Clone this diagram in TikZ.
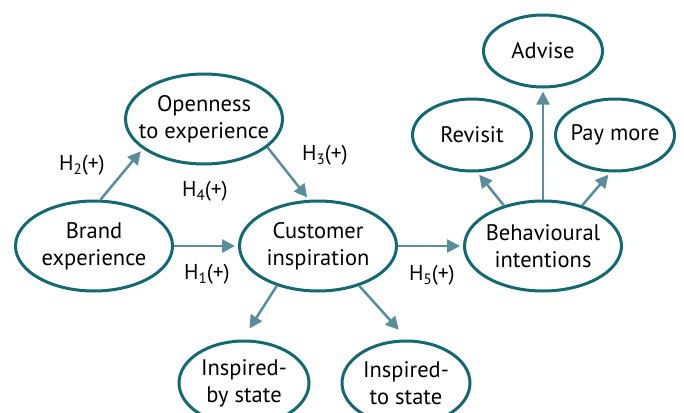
\documentclass[tikz,border=0pt]{standalone}
\usepackage{fontspec}
\setmainfont{PT Sans}
\usetikzlibrary{shapes.geometric,arrows.meta}
\definecolor{ringteal}{RGB}{20,104,114}
\definecolor{arrowteal}{RGB}{90,140,154}
\newcommand{\hyp}[1]{H\raisebox{-0.35ex}{\fontsize{15}{15}\selectfont #1}(+)}
\begin{document}
\begin{tikzpicture}
        [x=1pt,y=-1pt,
        construct/.style={ellipse,draw=ringteal,line width=3pt,align=center,inner sep=-16pt,
          font=\fontsize{22.5}{27}\selectfont},
        big/.style={construct,minimum width=157pt,minimum height=90pt},
        small/.style={construct,minimum width=119pt,minimum height=72pt},
        effect/.style={-{Triangle[length=13pt,width=13pt]},draw=arrowteal,line width=2.5pt,shorten >=3pt},
        hlabel/.style={font=\fontsize{21.5}{25}\selectfont}]
        \useasboundingbox (0,0) rectangle (684,412);
        \node[big] (brand) at (94,246) {Brand\\experience};
        \node[big] (open) at (204,119) {Openness\\to experience};
        \node[big] (cust) at (318,246) {Customer\\inspiration};
        \node[big] (behav) at (543,246) {Behavioural\\intentions};
        \node[small] (advise) at (543,51) {Advise};
        \node[small] (revisit) at (472,135) {Revisit};
        \node[small] (paymore) at (615,135) {Pay more};
        \node[big,minimum width=130pt,minimum height=84pt] (inby) at (244,383) {Inspired-\\by state};
        \node[big,minimum width=128pt,minimum height=84pt] (into) at (406,383) {Inspired-\\to state};
        \draw[effect] (brand.82) -- (open.206);
        \draw[effect] (open.336) -- (cust.101);
        \draw[effect] (brand.east) -- (brand.east -| cust.west);
        \draw[effect] (cust.east) -- (behav.west);
        \draw[effect] (behav.134) -- (revisit.278);
        \draw[effect] (behav.north) -- (advise.south);
        \draw[effect] (behav.46) -- (paymore.263);
        \draw[effect,shorten >=13pt] (cust.224) -- (inby.92);
        \draw[effect,shorten >=13pt] (cust.316) -- (into.88);
        \node[hlabel] (h1) at (207,274) {\hyp{1}};
        \node[hlabel] (h2) at (82,165) {\hyp{2}};
        \node[hlabel] (h3) at (325,155) {\hyp{3}};
        \node[hlabel] (h4) at (205,191) {\hyp{4}};
        \node[hlabel] (h5) at (432,275) {\hyp{5}};
      \end{tikzpicture}
\end{document}
